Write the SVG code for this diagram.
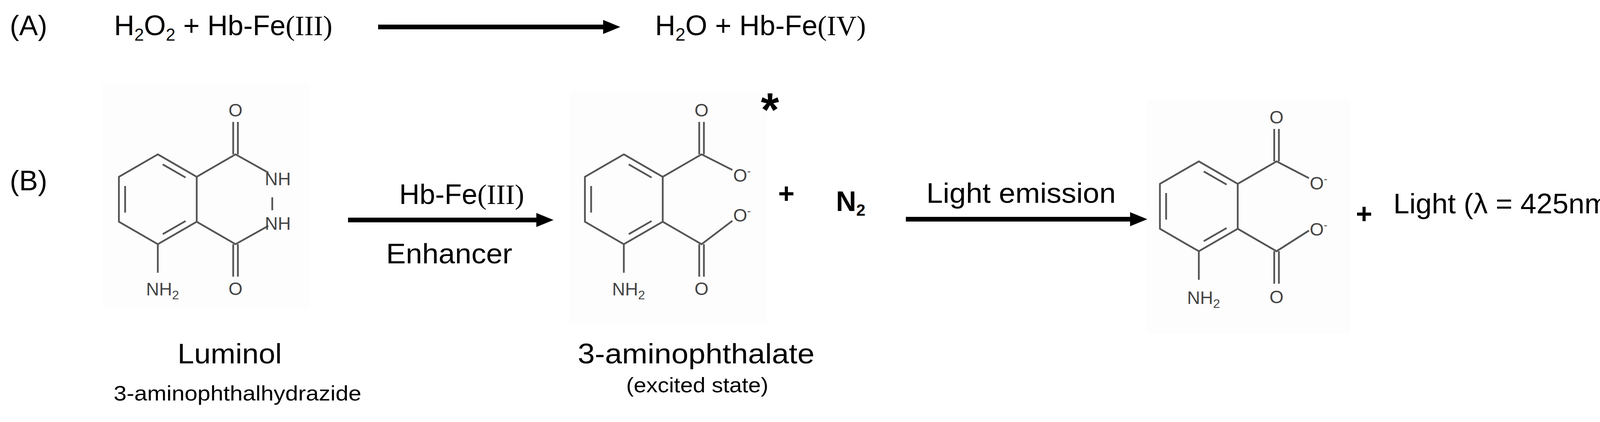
<svg xmlns="http://www.w3.org/2000/svg" width="4182" height="1080" viewBox="0 0 4182 1080">
<style>
.t{font-family:"Liberation Sans",Arial,sans-serif;font-size:72px;fill:#000}
.s{font-family:"Liberation Sans",Arial,sans-serif;font-size:54px;fill:#000}
.r{font-family:"Liberation Serif","Times New Roman",serif}
.b{stroke:#555;stroke-width:4.5;fill:none}
.a{font-family:"Liberation Sans",Arial,sans-serif;font-size:46px;fill:#444}
.bg{fill:#fdfdfd}
</style>
<defs>
<marker id="ah" markerUnits="userSpaceOnUse" markerWidth="44" markerHeight="36" refX="4" refY="18" orient="auto"><path d="M0,0 L44,18 L0,36 Z" fill="#000"/></marker>
</defs>
<g id="labelA"><text class="t" x="25" y="90" font-size="66">(A)</text></g>
<g id="labelB"><text class="t" x="25" y="487" font-size="66">(B)</text></g>
<g id="eqA-left"><text class="t" x="292" y="90" font-size="66">H<tspan font-size="44" dy="14">2</tspan><tspan dy="-14">O</tspan><tspan font-size="44" dy="14">2</tspan><tspan dy="-14"> + Hb-Fe</tspan><tspan class="r">(III)</tspan></text></g>
<g id="eqA-right"><text class="t" x="1677" y="90" font-size="68">H<tspan font-size="46" dy="14">2</tspan><tspan dy="-14">O + Hb-Fe</tspan><tspan class="r">(IV)</tspan></text></g>

<g id="luminol">
<rect class="bg" x="262" y="212" width="530" height="576"/>
<g transform="translate(404,510)">
<path class="b" d="M0,-115 L99.6,-57.5 L99.6,57.5 L0,115 L-99.6,57.5 L-99.6,-57.5 Z"/>
<path class="b" d="M12.6,-89.3 L71.1,-55.6 M-83.7,-34 L-83.7,34 M71.1,55.6 L12.6,89.3"/>
<path class="b" d="M99.6,-57.5 L199,-115 L283,-68 M193,-115 L193,-198 M205,-115 L205,-198 M99.6,57.5 L199,115 L283,68 M193,115 L193,198 M205,115 L205,198 M0,115 L0,188 M293,-5 L293,28"/>
<text class="a" x="199" y="-212" text-anchor="middle">O</text>
<text class="a" x="199" y="245" text-anchor="middle">O</text>
<text class="a" x="274" y="-36">NH</text>
<text class="a" x="274" y="78">NH</text>
<text class="a" x="-30" y="246">NH<tspan font-size="32" dy="10">2</tspan></text>
</g>
<text class="t" x="588" y="930" text-anchor="middle" font-size="76" textLength="267" lengthAdjust="spacingAndGlyphs">Luminol</text>
<text class="s" x="608" y="1025" text-anchor="middle" font-size="56" textLength="634" lengthAdjust="spacingAndGlyphs">3-aminophthalhydrazide</text>
</g>

<g id="aminophthalate-excited">
<rect class="bg" x="1459" y="234" width="505" height="593"/>
<g transform="translate(1597,510)">
<path class="b" d="M0,-115 L99.6,-57.5 L99.6,57.5 L0,115 L-99.6,57.5 L-99.6,-57.5 Z"/>
<path class="b" d="M12.6,-89.3 L71.1,-55.6 M-83.7,-34 L-83.7,34 M71.1,55.6 L12.6,89.3"/>
<path class="b" d="M99.6,-57.5 L199,-115 L278,-75 M193,-115 L193,-198 M205,-115 L205,-198 M99.6,57.5 L199,115 L278,55 M193,115 L193,198 M205,115 L205,198 M0,115 L0,188"/>
<text class="a" x="199" y="-212" text-anchor="middle">O</text>
<text class="a" x="199" y="245" text-anchor="middle">O</text>
<text class="a" x="280" y="-45">O<tspan font-size="28" dy="-18">-</tspan></text>
<text class="a" x="280" y="57">O<tspan font-size="28" dy="-18">-</tspan></text>
<text class="a" x="-30" y="246">NH<tspan font-size="32" dy="10">2</tspan></text>
</g>
<text x="1971" y="322" text-anchor="middle" style="font-family:'Liberation Sans',Arial,sans-serif;font-size:120px;font-weight:bold">*</text>
<text class="t" x="1782" y="930" text-anchor="middle" font-size="76" textLength="606" lengthAdjust="spacingAndGlyphs">3-aminophthalate</text>
<text class="s" x="1785" y="1004" text-anchor="middle" font-size="52" textLength="364" lengthAdjust="spacingAndGlyphs">(excited state)</text>
</g>

<g id="plus1"><text class="t" x="2013" y="520" text-anchor="middle" font-weight="bold" font-size="64">+</text></g>
<g id="N2"><text class="t" x="2140" y="540" font-weight="bold" font-size="64">N<tspan font-size="42" dy="12">2</tspan></text></g>

<g id="aminophthalate">
<rect class="bg" x="2936" y="254" width="520" height="600"/>
<g transform="translate(3069,528)">
<path class="b" d="M0,-115 L99.6,-57.5 L99.6,57.5 L0,115 L-99.6,57.5 L-99.6,-57.5 Z"/>
<path class="b" d="M12.6,-89.3 L71.1,-55.6 M-83.7,-34 L-83.7,34 M71.1,55.6 L12.6,89.3"/>
<path class="b" d="M99.6,-57.5 L199,-115 L282,-72 M193,-115 L193,-198 M205,-115 L205,-198 M99.6,57.5 L199,115 L282,62 M193,115 L193,198 M205,115 L205,198 M0,115 L0,188"/>
<text class="a" x="199" y="-212" text-anchor="middle">O</text>
<text class="a" x="199" y="248" text-anchor="middle">O</text>
<text class="a" x="284" y="-43">O<tspan font-size="28" dy="-18">-</tspan></text>
<text class="a" x="284" y="75">O<tspan font-size="28" dy="-18">-</tspan></text>
<text class="a" x="-30" y="250">NH<tspan font-size="32" dy="10">2</tspan></text>
</g>
</g>

<g id="plus2"><text class="t" x="3492" y="572" text-anchor="middle" font-weight="bold" font-size="64">+</text></g>
<g id="light"><text class="t" x="3567" y="546" font-size="64" textLength="575" lengthAdjust="spacingAndGlyphs">Light (λ = 425nm)</text></g>

<g id="connectors" stroke="#000" stroke-width="12" fill="none">
<line x1="968" y1="69" x2="1548" y2="69" marker-end="url(#ah)"/>
<line x1="891" y1="563" x2="1377" y2="563" marker-end="url(#ah)"/>
<line x1="2319" y1="561" x2="2897" y2="561" marker-end="url(#ah)"/>
</g>
<g id="arrow-labels">
<text class="t" x="1182" y="522" text-anchor="middle">Hb-Fe<tspan class="r">(III)</tspan></text>
<text class="t" x="1150" y="674" text-anchor="middle" textLength="323" lengthAdjust="spacingAndGlyphs">Enhancer</text>
<text class="t" x="2614" y="519" text-anchor="middle" textLength="485" lengthAdjust="spacingAndGlyphs">Light emission</text>
</g>
</svg>
